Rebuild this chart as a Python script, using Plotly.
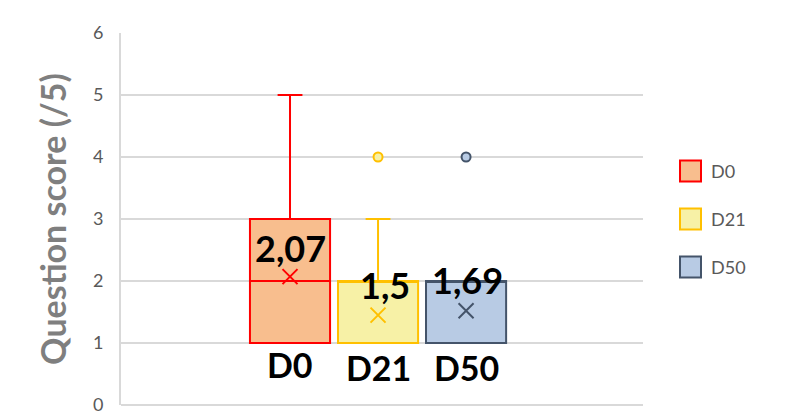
import plotly.graph_objects as go

# ---- data ----
groups = ["D0", "D21", "D50"]
q1 = [1, 1, 1]
median = [2, 2, 2]
q3 = [3, 2, 2]
lower = [1, 1, 1]
upper = [5, 3, 2]
mean_marker = [2.07, 1.45, 1.52]
mean_labels = ["2,07", "1,5", "1,69"]
outliers = [[], [4], [4]]
y_ticks = [0, 1, 2, 3, 4, 5, 6]

fills = ["#F8BE8E", "#F7F1A6", "#B8CBE4"]
lines = ["#FF0000", "#FFC000", "#44546A"]

W, H = 794, 413
L, R, T, B = 121, 151, 33, 8
xpos = [1, 2, 3]

fig = go.Figure()
for i, g in enumerate(groups):
    fig.add_trace(go.Box(
        x=[xpos[i]], q1=[q1[i]], median=[median[i]], q3=[q3[i]],
        lowerfence=[lower[i]], upperfence=[upper[i]],
        width=0.91, whiskerwidth=0.31,
        fillcolor=fills[i], line=dict(color=lines[i], width=2),
        boxpoints=False, name=g, showlegend=False, hoverinfo="skip"))
    fig.add_trace(go.Scatter(
        x=[xpos[i]], y=[mean_marker[i]], mode="markers",
        marker=dict(symbol="x-thin", size=15, line=dict(color=lines[i], width=2)),
        showlegend=False, hoverinfo="skip"))
    if outliers[i]:
        fig.add_trace(go.Scatter(
            x=[xpos[i]] * len(outliers[i]), y=outliers[i], mode="markers",
            marker=dict(symbol="circle", size=9, color=fills[i],
                        line=dict(color=lines[i], width=2)),
            showlegend=False, hoverinfo="skip"))

# value labels
label_y = [2.53, 1.94, 2.02]
label_dx = [0, 0.08, 0.02]
for i, t in enumerate(mean_labels):
    fig.add_annotation(x=xpos[i] + label_dx[i], y=label_y[i], text=f"<b>{t}</b>",
                       showarrow=False, font=dict(family="Lato", size=36, color="black"))
# category labels
cat_y = [0.65, 0.6, 0.6]
for i, g in enumerate(groups):
    fig.add_annotation(x=xpos[i], y=cat_y[i], text=f"<b>{g}</b>",
                       showarrow=False, font=dict(family="Lato", size=34, color="black"))

# bottom gridline (edge of plot area)
fig.add_shape(type="line", xref="paper", yref="paper", x0=0, x1=1, y0=0, y1=0,
              line=dict(color="#D9D9D9", width=2), layer="below")

# custom legend
pw, ph = W - L - R, H - T - B
def px(x):
    return (x - L) / pw
def py(y):
    return (H - B - y) / ph
leg_rows = [171, 219, 267]
for i, g in enumerate(groups):
    yc = leg_rows[i]
    fig.add_shape(type="rect", xref="paper", yref="paper",
                  x0=px(680), x1=px(701), y0=py(yc + 10.5), y1=py(yc - 10.5),
                  fillcolor=fills[i], line=dict(color=lines[i], width=2))
    fig.add_annotation(xref="paper", yref="paper", x=px(709), y=py(yc), text=g,
                       xanchor="left", showarrow=False,
                       font=dict(family="Lato", size=18, color="#595959"))

fig.update_layout(
    width=W, height=H,
    margin=dict(l=L, r=R, t=T, b=B, autoexpand=False),
    paper_bgcolor="white", plot_bgcolor="white",
    xaxis=dict(range=[-0.92, 5.01], showgrid=False, zeroline=False,
               showticklabels=False, showline=False),
    yaxis=dict(range=[0, 6], tickvals=y_ticks, showgrid=True, gridcolor="#D9D9D9",
               gridwidth=2, zeroline=False, showline=True, linecolor="#D9D9D9",
               linewidth=2, ticks="", ticklabelstandoff=12, ticklabeloverflow="allow",
               tickfont=dict(family="Lato", size=18, color="#595959"),
               title=dict(text="<b>Question score (/5)</b>", standoff=16,
                          font=dict(family="Lato", size=34, color="#7F7F7F"))),
    showlegend=False,
)

fig.write_html("out.html", config={"displayModeBar": False},
               post_script="document.body.style.margin='0px';document.body.style.overflow='hidden';")
